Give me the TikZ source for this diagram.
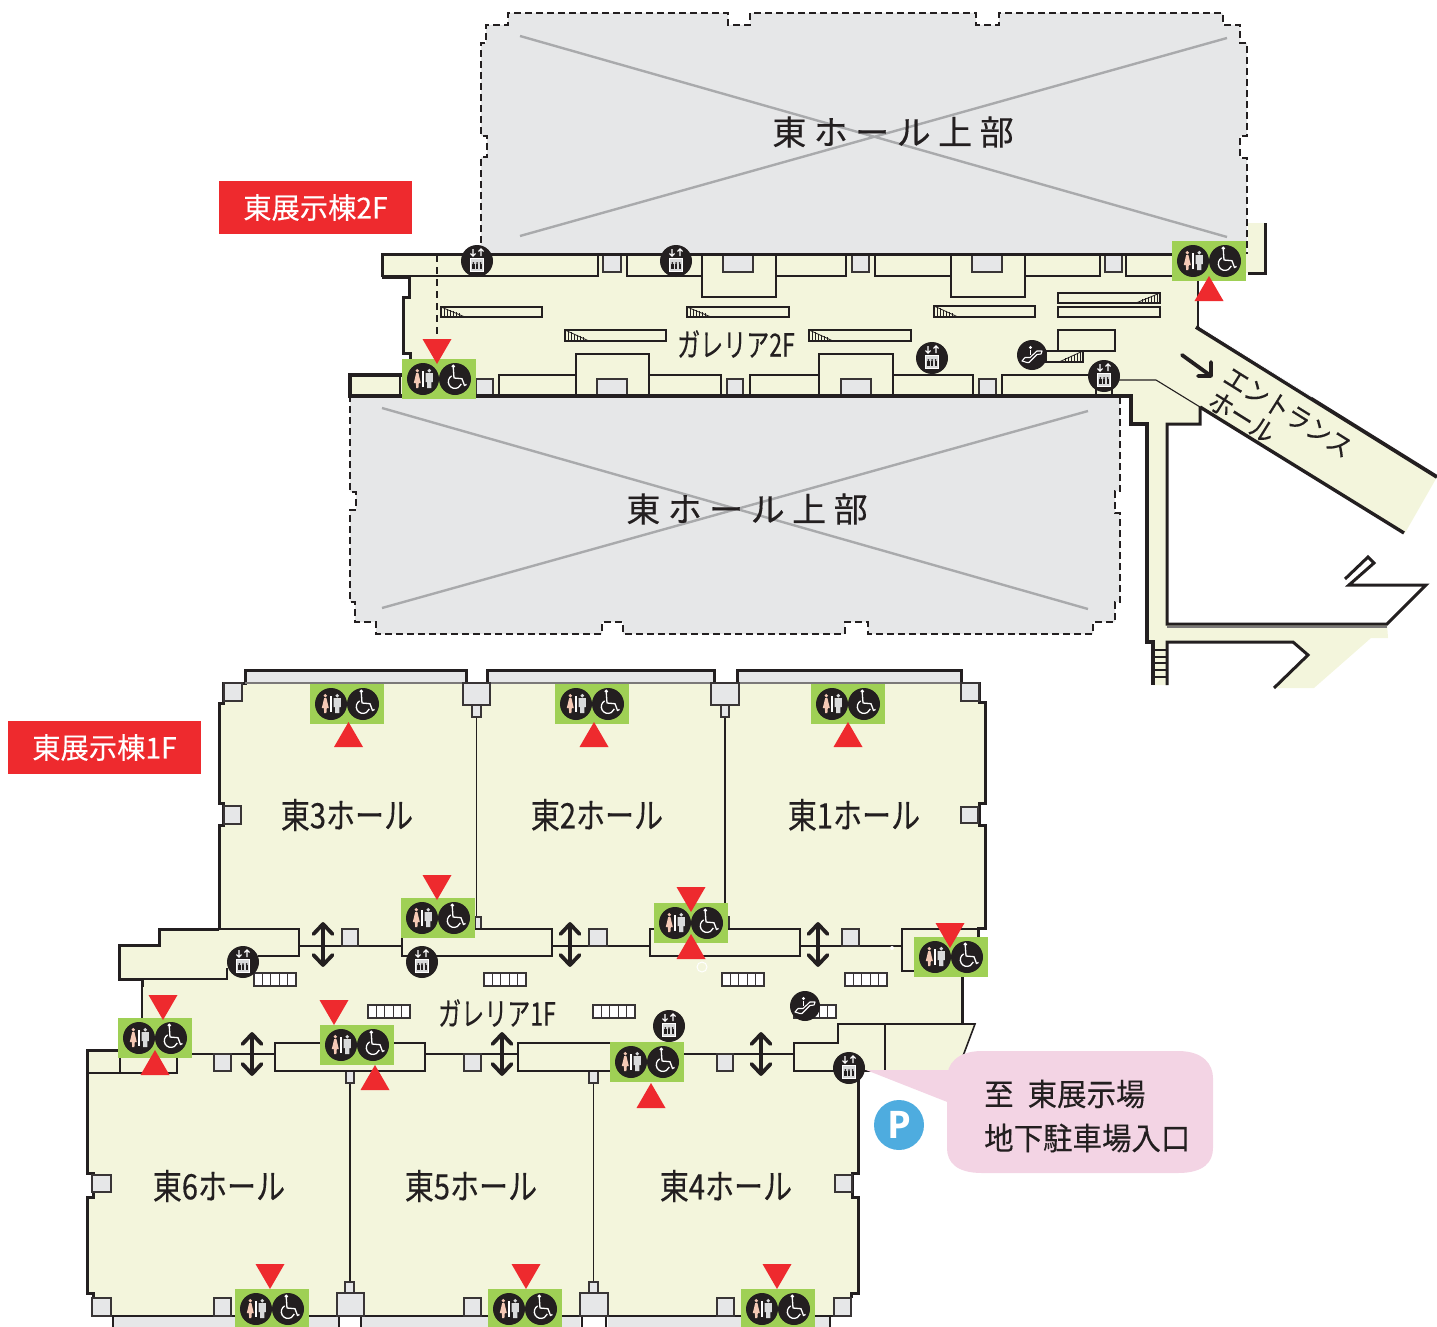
\documentclass[tikz,border=0pt]{standalone}
\usepackage{fontspec}
\newfontfamily\jpnhall[FakeStretch=0.83,FakeBold=0.3]{Noto Sans CJK JP}
\newfontfamily\jpncond[FakeStretch=0.72,FakeBold=0.2]{Noto Sans CJK JP}
\newfontfamily\jpnmid[FakeStretch=0.9,FakeBold=0.2]{Noto Sans CJK JP}
\newfontfamily\jpntag[FakeStretch=0.975,FakeBold=0.2]{Noto Sans CJK JP}
\newfontfamily\jpnbub[FakeStretch=0.95,FakeBold=0.2]{Noto Sans CJK JP}
\newfontfamily\jpnwide[LetterSpace=22,FakeBold=0.3]{Noto Sans CJK JP}
\setsansfont{Open Sans}
\definecolor{ink}{HTML}{231F20}
\definecolor{beige}{HTML}{F3F5DC}
\definecolor{voidgrey}{HTML}{E6E7E8}
\definecolor{crossgrey}{HTML}{A9AAAC}
\definecolor{wcgreen}{HTML}{9FD055}
\definecolor{alarm}{HTML}{EE2A2E}
\definecolor{bubble}{HTML}{F3D4E4}
\definecolor{pblue}{HTML}{4EACDF}
\definecolor{female}{HTML}{F5C9B5}
\definecolor{male}{HTML}{D9DADB}
\tikzset{
  wall/.style={draw=ink,line width=3,line join=miter},
  thinwall/.style={draw=ink,line width=1.6},
  hair/.style={draw=ink,line width=1.1},
  dashwall/.style={draw=ink,line width=1.3,dash pattern=on 7pt off 4pt},
  crossline/.style={draw=crossgrey,line width=2.4},
  colbox/.style={draw=ink!90,line width=1.6,fill=voidgrey},
  label/.style={inner sep=0,text=ink,align=center},
  hallname/.style={label,font=\jpnhall\fontsize{35}{35}\selectfont},
  galname/.style={label,font=\jpncond\fontsize{32}{32}\selectfont},
  voidname/.style={label,font=\jpnwide\fontsize{34}{34}\selectfont},
  floortag/.style={fill=alarm,minimum width=193,minimum height=53,inner sep=0,text=white,font=\jpntag\fontsize{29}{29}\selectfont},
  dblarrow/.style={draw=ink,line width=3.8,line cap=round,line join=round},
}
\newcommand{\wcicon}[2]{%
  \begin{scope}[shift={(#1,#2)}]
    \fill[wcgreen] (0,0) rectangle (74,40);
    \fill[ink] (21,20) circle[radius=16] (53,20) circle[radius=16];
    \fill[female] (15.3,11.7) circle[radius=1.8];
    \fill[female] (14.2,14) -- (16.4,14) -- (18.8,24) -- (16.8,24) -- (16.4,29) -- (14.2,29) -- (13.8,24) -- (11.8,24) -- cycle;
    \fill[male] (27.3,11.7) circle[radius=1.9];
    \fill[male] (23.7,14) -- (30.9,14) -- (30.9,23) -- (29.4,23) -- (29.4,29) -- (25.2,29) -- (25.2,23) -- (23.7,23) -- cycle;
    \draw[white,line width=1.4] (21,12.3) -- (21,28.3);
    \fill[white] (51.3,7.3) circle[radius=1.9];
    \draw[white,line width=1.3,line join=round] (51.3,9) -- (52,19) -- (60,19.7) -- (62.5,26.5) -- (64.5,25.5);
    \draw[white,line width=1.3] (53,22.7) ++(240:6.7) arc[start angle=240,end angle=20,radius=6.7];
  \end{scope}}
\newcommand{\elevicon}[2]{%
  \begin{scope}[shift={(#1,#2)}]
    \fill[ink] (0,0) circle[radius=16];
    \draw[white,line width=1.1] (-4,-12) -- (-4,-5) (-6.5,-7.5) -- (-4,-4.8) -- (-1.5,-7.5);
    \draw[white,line width=1.1] (4,-5) -- (4,-12) (1.5,-9.5) -- (4,-12.2) -- (6.5,-9.5);
    \fill[male] (-6.5,-2.5) rectangle (6.5,10);
    \draw[white,line width=1] (-6.5,-2.5) rectangle (6.5,10);
    \foreach \px in {-3.6,0,3.6}{\fill[ink] (\px,2) circle[radius=1];\fill[ink] (\px-1.1,3.2) rectangle (\px+1.1,8);}
  \end{scope}}
\newcommand{\escicon}[2]{%
  \begin{scope}[shift={(#1,#2)}]
    \fill[ink] (0,0) circle[radius=15];
    \fill[white] (-1.5,-7.5) circle[radius=1.7];
    \draw[white,line width=1.1,line join=round] (-10,6) -- (-5,7.5) -- (-3,7.5) -- (5,-.5) -- (9,-1) -- (10,-4) -- (5,-4) -- (-2,2.5) -- (-7,2.5) -- cycle;
    \draw[white,line width=1.2] (-1.5,-5.5) -- (-1.5,-.5);
  \end{scope}}
\newcommand{\tridown}[2]{\fill[alarm] (#1-14.5,#2) -- (#1+14.5,#2) -- (#1,#2+25) -- cycle;}
\newcommand{\triup}[2]{\fill[alarm] (#1-14.5,#2) -- (#1+14.5,#2) -- (#1,#2-25) -- cycle;}
\newcommand{\colsq}[4]{\draw[colbox] (#1,#2) rectangle (#3,#4);}
\newcommand{\bx}[4]{\draw[thinwall] (#1,#2) rectangle (#3,#4);}
\newcommand{\stairL}[4]{%
  \draw[thinwall] (#1,#2) rectangle (#3,#4);
  \foreach \k in {0,...,6}{\draw[ink,line width=.8] (#1+3*\k,#2+1.5*\k*\fpeval{(#4-#2)/14}) -- (#1+3*\k,#4);}
  \draw[ink,line width=.8] (#1,#2) -- (#1+24,#4);}
\newcommand{\stairR}[4]{%
  \draw[thinwall] (#1,#2) rectangle (#3,#4);
  \foreach \k in {0,...,6}{\draw[ink,line width=.8] (#3-3*\k,#2+1.5*\k*\fpeval{(#4-#2)/14}) -- (#3-3*\k,#4);}
  \draw[ink,line width=.8] (#3,#2) -- (#3-24,#4);}
\newcommand{\cells}[2]{%
  \draw[ink!90,fill=white,line width=1.3] (#1,#2) rectangle (#1+42,#2+13);
  \foreach \k in {1,...,4}{\draw[ink!90,line width=1.1] (#1+8.4*\k,#2) -- (#1+8.4*\k,#2+13);}}
\newcommand{\updown}[3]{%
  \draw[dblarrow] (#1,#2) -- (#1,#3) (#1-9.5,#2+10) -- (#1,#2) -- (#1+9.5,#2+10) (#1-9.5,#3-10) -- (#1,#3) -- (#1+9.5,#3-10);}
\begin{document}
\begin{tikzpicture}[x=1pt,y=-1pt]
\useasboundingbox (0,0) rectangle (1437,1327);
% ---- upper void
\path[fill=voidgrey] (508,13) -- (728,13) -- (728,25) -- (750,25) -- (750,13) -- (976,13) -- (976,25) -- (999,25) -- (999,13) -- (1223,13) -- (1223,25) -- (1240,25) -- (1240,43) -- (1247,43) -- (1247,136) -- (1240,136) -- (1240,158) -- (1247,158) -- (1247,254) -- (481,254) -- (481,157) -- (487,157) -- (487,136) -- (481,136) -- (481,43) -- (486,43) -- (486,25) -- (508,25) -- cycle;
\draw[dashwall] (481,254) -- (481,157) -- (487,157) -- (487,136) -- (481,136) -- (481,43) -- (486,43) -- (486,25) -- (508,25) -- (508,13) -- (728,13) -- (728,25) -- (750,25) -- (750,13) -- (976,13) -- (976,25) -- (999,25) -- (999,13) -- (1223,13) -- (1223,25) -- (1240,25) -- (1240,43) -- (1247,43) -- (1247,136) -- (1240,136) -- (1240,158) -- (1247,158) -- (1247,254);
\draw[crossline] (520,36) -- (1227,237) (520,236) -- (1227,38);
% ---- lower void
\path[fill=voidgrey] (350,397) -- (1120,397) -- (1120,491) -- (1115,491) -- (1115,513) -- (1120,513) -- (1120,602) -- (1115,602) -- (1115,622) -- (1093,622) -- (1093,634) -- (868,634) -- (868,622) -- (845,622) -- (845,634) -- (623,634) -- (623,622) -- (602,622) -- (602,634) -- (376,634) -- (376,622) -- (355,622) -- (355,602) -- (350,602) -- (350,510) -- (356,510) -- (356,492) -- (350,492) -- cycle;
\draw[dashwall] (1120,397) -- (1120,491) -- (1115,491) -- (1115,513) -- (1120,513) -- (1120,602) -- (1115,602) -- (1115,622) -- (1093,622) -- (1093,634) -- (868,634) -- (868,622) -- (845,622) -- (845,634) -- (623,634) -- (623,622) -- (602,622) -- (602,634) -- (376,634) -- (376,622) -- (355,622) -- (355,602) -- (350,602) -- (350,510) -- (356,510) -- (356,492) -- (350,492) -- (350,397);
\draw[crossline] (382,408) -- (1088,609) (382,608) -- (1088,411);
\node[voidname] (voidA) at (893,132) {東ホール上部};
\node[voidname] (voidB) at (747,509) {東ホール上部};
% ---- 2F fill
\fill[beige] (382,254) -- (1248,254) -- (1248,223) -- (1265,223) -- (1265,273) -- (1198,273) -- (1198,327) -- (1437,477) -- (1405,533) -- (1200,407) -- (1200,424) -- (1167,424) -- (1167,624) -- (1387,624) -- (1388,638) -- (1371,638) -- (1314,688) -- (1274,688) -- (1308,655) -- (1293,642) -- (1167,642) -- (1167,685) -- (1153,685) -- (1153,642) -- (1147,642) -- (1147,424) -- (1131,424) -- (1131,396) -- (350,396) -- (350,375) -- (410,375) -- (410,353) -- (403,353) -- (403,297) -- (409,297) -- (409,277) -- (382,277) -- cycle;
% ---- 2F inner structure
\draw[ink,line width=1.4,dash pattern=on 7pt off 5pt] (437,255) -- (437,338);
\draw[thinwall] (598,254) -- (598,276) -- (382,276);
\colsq{603}{254}{621}{272}
\draw[thinwall] (627,254) -- (627,276) -- (702,276);
\draw[thinwall] (702,254) -- (702,297) -- (776,297) -- (776,254);
\colsq{723}{254}{753}{272}
\draw[thinwall] (776,276) -- (846,276) -- (846,254);
\colsq{852}{254}{869}{272}
\draw[thinwall] (875,254) -- (875,276) -- (951,276);
\draw[thinwall] (951,254) -- (951,297) -- (1025,297) -- (1025,254);
\colsq{972}{254}{1002}{272}
\draw[thinwall] (1025,276) -- (1100,276) -- (1100,254);
\colsq{1105}{254}{1122}{272}
\draw[thinwall] (1126,254) -- (1126,276) -- (1174,276);
% lower row
\colsq{476}{379}{493}{396}
\draw[thinwall] (499,396) -- (499,375) -- (576,375);
\draw[thinwall] (576,396) -- (576,354) -- (649,354) -- (649,396);
\colsq{597}{379}{627}{396}
\draw[thinwall] (649,375) -- (721,375) -- (721,396);
\colsq{727}{379}{743}{396}
\draw[thinwall] (750,396) -- (750,375) -- (819,375);
\draw[thinwall] (819,396) -- (819,354) -- (893,354) -- (893,396);
\colsq{841}{379}{871}{396}
\draw[thinwall] (893,375) -- (973,375) -- (973,396);
\colsq{979}{379}{996}{396}
\draw[thinwall] (1002,396) -- (1002,375) -- (1095,375);
\draw[thinwall] (1096,385) -- (1096,396) (1112,385) -- (1112,396);
\draw[thinwall] (400,377) -- (400,396);
\draw[hair] (1118,380) -- (1156,380) -- (1200,407);
% stairs 2F
\stairL{441}{307}{542}{317}
\stairL{687}{307}{789}{317}
\stairL{565}{330}{666}{341}
\stairL{809}{330}{911}{341}
\stairL{934}{306}{1035}{317}
\stairR{1058}{293}{1160}{303}
\bx{1058}{307}{1160}{317}
\bx{1058}{330}{1115}{351}
\stairR{1046}{351}{1083}{362}
% walls 2F
\draw[wall] (382,277) -- (382,254) -- (1174,254);
\draw[wall] (382,277) -- (409,277) -- (409,297) -- (403,297) -- (403,353) -- (410,353) -- (410,360);
\draw[wall,line width=3.6] (404,375) -- (350,375) -- (350,396) -- (1131,396) -- (1131,424) -- (1147,424) -- (1147,642) -- (1153,642) -- (1153,685);
\draw[wall] (1248,273) -- (1265,273) -- (1265,223);
\draw[wall,line width=2.4] (1198,278) -- (1198,327);
\draw[wall,line width=3.8] (1196,327) -- (1437,477);
\draw[white,line width=.7] (1200,327) -- (1312,397);
\draw[wall,line width=3.4] (1200,407) -- (1404,533);
\draw[wall] (1200,407) -- (1200,424) -- (1167,424) -- (1167,624) -- (1387,624) -- (1426,585) -- (1349,585) -- (1374,563) -- (1368,557) -- (1345,579);
\draw[thinwall,draw=ink!60] (1167,627) -- (1387,627);
\draw[wall] (1167,685) -- (1167,642) -- (1293,642) -- (1308,655) -- (1274,688);
\foreach \ry in {650,657,663,670,677}{\draw[ink,line width=1.1] (1153,\ry) -- (1167,\ry);}
% entrance labels and arrow
\draw[dblarrow] (1182,355) -- (1211,376) (1211,362) -- (1211,376) -- (1198,376);
\node[label,rotate=-32,font=\jpnmid\fontsize{27}{27}\selectfont] (entrance) at (1288,412) {エントランス};
\node[label,rotate=-32,font=\jpnmid\fontsize{27}{27}\selectfont] (entrance2) at (1242,417) {ホール};
\node[galname] (gal2) at (736,344) {ガレリア2F};
\node[floortag] (tag2) at (315.5,207.5) {東展示棟2F};
% 2F icons
\elevicon{477}{261}\elevicon{676}{261}\elevicon{932}{358}\elevicon{1104}{376}
\escicon{1032}{355}
\wcicon{402}{359}\wcicon{1172}{241}
\tridown{437}{339}\triup{1209}{301}
% ---- 1F fill
\fill[voidgrey] (245,670) rectangle (466,683) (487,670) rectangle (714,683) (737,670) rectangle (961,683);
\fill[voidgrey] (113,1316) rectangle (338,1327) (362,1316) rectangle (580,1327) (608,1316) rectangle (830,1327);
\fill[beige] (223,683) -- (979,683) -- (979,702) -- (985,702) -- (985,803) -- (979,803) -- (979,825) -- (985,825) -- (985,928) -- (978,928) -- (978,937) -- (962,976) -- (962,1023) -- (975,1023) -- (963,1055) -- (947,1071) -- (858,1071) -- (858,1173) -- (852,1173) -- (852,1197) -- (858,1197) -- (858,1293) -- (851,1293) -- (851,1316) -- (93,1316) -- (93,1293) -- (87,1293) -- (87,1197) -- (93,1197) -- (93,1173) -- (87,1173) -- (87,1050) -- (118,1050) -- (142,1020) -- (142,979) -- (119,979) -- (119,945) -- (159,945) -- (159,929) -- (219,929) -- (219,825) -- (223,825) -- (223,803) -- (219,803) -- (219,703) -- (223,703) -- cycle;
% walls 1F
\draw[wall] (219,929) -- (219,825) -- (223,825) -- (223,803) -- (219,803) -- (219,703) -- (223,703) -- (223,683) -- (245,683) -- (245,670) -- (466,670) -- (466,683) -- (487,683) -- (487,670) -- (714,670) -- (714,683) -- (737,683) -- (737,670) -- (961,670) -- (961,683) -- (979,683) -- (979,702) -- (985,702) -- (985,803) -- (979,803) -- (979,825) -- (985,825) -- (985,928) -- (978,928) -- (978,937);
\draw[thinwall,draw=ink!60] (245,683) -- (961,683);
\draw[wall] (962,976) -- (962,1024);
\draw[thinwall] (962,1024) -- (975,1024) -- (963,1056);
\draw[wall] (219,929) -- (159,929) -- (159,945) -- (119,945) -- (119,979) -- (142,979) -- (142,987);
\draw[thinwall] (142,987) -- (142,1018);
\draw[wall] (119,1050) -- (87,1050) -- (87,1173) -- (93,1173) -- (93,1197) -- (87,1197) -- (87,1293) -- (93,1293) -- (93,1298);
\draw[wall] (858,1075) -- (858,1173) -- (852,1173) -- (852,1197) -- (858,1197) -- (858,1293) -- (851,1293) -- (851,1298);
\draw[thinwall] (93,1316) -- (851,1316);
\draw[wall,line width=2.2] (113,1316) -- (113,1327) (339,1316) -- (339,1327) (361,1316) -- (361,1327) (582,1316) -- (582,1327) (606,1316) -- (606,1327) (830,1316) -- (830,1327);
% hall dividers and columns
\draw[hair] (476.5,717) -- (476.5,917) (725,717) -- (725,917) (350,1083) -- (350,1282) (593.5,1083) -- (593.5,1282);
\colsq{224}{683}{242}{701}\colsq{961}{683}{979}{701}
\colsq{224}{806}{241}{824}\colsq{961}{807}{978}{823}
\colsq{463}{683}{490}{705}\colsq{472}{705}{481}{717}
\colsq{711}{683}{739}{705}\colsq{721}{705}{729}{717}
\colsq{475}{917}{481}{929}\colsq{723}{917}{729}{929}
\colsq{92}{1175}{111}{1192}\colsq{835}{1175}{852}{1192}
\colsq{92}{1298}{111}{1316}\colsq{834}{1298}{851}{1316}
\colsq{214}{1298}{231}{1316}\colsq{464}{1298}{481}{1316}\colsq{717}{1298}{734}{1316}
\colsq{337}{1293}{364}{1316}\colsq{345}{1282}{354}{1293}
\colsq{580}{1293}{608}{1316}\colsq{589}{1282}{598}{1293}
\colsq{346}{1071}{354}{1083}\colsq{589}{1071}{598}{1083}
% gallery upper side
\draw[thinwall] (219,929) -- (299,929) -- (299,956) -- (258,956);
\draw[thinwall] (227,968) -- (227,979) -- (120,979);
\draw[thinwall] (299,946) -- (402,946);
\colsq{342}{929}{358}{946}
\draw[thinwall] (402,929) rectangle (552,956);
\draw[thinwall] (552,946) -- (650,946);
\colsq{589}{929}{607}{946}
\draw[thinwall] (650,929) rectangle (800,956);
\draw[thinwall] (800,946) -- (902,946);
\colsq{842}{929}{859}{946}
\draw[thinwall] (978,929) -- (902,929) -- (902,971) -- (916,971);
% gallery lower side
\draw[thinwall] (120,1058) -- (120,1073) (87,1073) -- (177,1073) -- (177,1058);
\draw[thinwall] (190,1054) -- (275,1054);
\colsq{214}{1054}{231}{1071}
\draw[thinwall] (275,1043) rectangle (425,1071);
\draw[thinwall] (425,1054) -- (518,1054);
\colsq{464}{1054}{481}{1071}
\draw[thinwall] (612,1043) -- (518,1043) -- (518,1071) -- (612,1071);
\draw[thinwall] (684,1054) -- (794,1054);
\colsq{717}{1054}{733}{1071}
\draw[thinwall] (850,1071) -- (794,1071) -- (794,1043) -- (838,1043) -- (838,1024) -- (962,1024);
\draw[thinwall] (885,1024) -- (885,1071) (850,1071) -- (950,1071);
% cell rows
\cells{254}{973}\cells{484}{973}\cells{722}{973}\cells{845}{973}
\cells{368}{1005}\cells{593}{1005}\cells{794}{1005}
% double arrows
\updown{252}{1034}{1074}\updown{502}{1034}{1074}\updown{761}{1034}{1074}
\updown{323}{924}{965}\updown{570}{924}{965}\updown{818}{924}{965}
% stray marks of the reference
\fill[white] (892,948) circle[radius=2];
\draw[white,line width=1] (702,967) circle[radius=5];
% 1F labels
\node[hallname] (h3) at (347,815) {東3ホール};
\node[hallname] (h2) at (597,815) {東2ホール};
\node[hallname] (h1) at (854,815) {東1ホール};
\node[hallname] (h6) at (219,1186) {東6ホール};
\node[hallname] (h5) at (471,1186) {東5ホール};
\node[hallname] (h4) at (726,1186) {東4ホール};
\node[galname] (gal1) at (497,1013) {ガレリア1F};
\node[floortag] (tag1) at (104.5,747.5) {東展示棟1F};
% bubble
\fill[bubble] (866,1070) -- (960,1070) -- (960,1107) -- cycle;
\fill[bubble] (982,1051) -- (1178,1051) .. controls (1204,1051) and (1213,1065) .. (1213,1078) -- (1213,1148) .. controls (1213,1162) and (1204,1173) .. (1178,1173) -- (982,1173) .. controls (956,1173) and (947,1162) .. (947,1148) -- (947,1078) .. controls (947,1065) and (956,1051) .. (982,1051) -- cycle;
\node[label,anchor=west,font=\jpnbub\fontsize{31}{31}\selectfont] (b1) at (984,1094) {至\hspace{14pt}東展示場};
\node[label,anchor=west,font=\jpnbub\fontsize{31}{31}\selectfont] (b2) at (984,1138) {地下駐車場入口};
\fill[pblue] (899,1125) circle[radius=25];
\node[inner sep=0,text=white,font=\sffamily\bfseries\fontsize{38}{38}\selectfont] (park) at (899,1125) {P};
% 1F icons
\elevicon{243}{962}\elevicon{422}{962}\elevicon{669}{1026}\elevicon{849}{1068}
\escicon{805}{1006}
\wcicon{310}{684}\wcicon{555}{684}\wcicon{811}{684}
\wcicon{401}{898}\wcicon{654}{903}\wcicon{914}{937}
\wcicon{118}{1018}\wcicon{320}{1025}\wcicon{610}{1042}
\wcicon{235}{1289}\wcicon{488}{1289}\wcicon{741}{1289}
\triup{348.5}{747}\triup{594}{747}\triup{848}{747}
\tridown{437}{875}\tridown{691}{887}\triup{691}{959}\tridown{950}{923}
\tridown{163}{995}\triup{155}{1075}
\tridown{334}{1000}\triup{375}{1090}\triup{651}{1108}
\tridown{270}{1264}\tridown{526}{1264}\tridown{777}{1264}
\end{tikzpicture}
\end{document}
